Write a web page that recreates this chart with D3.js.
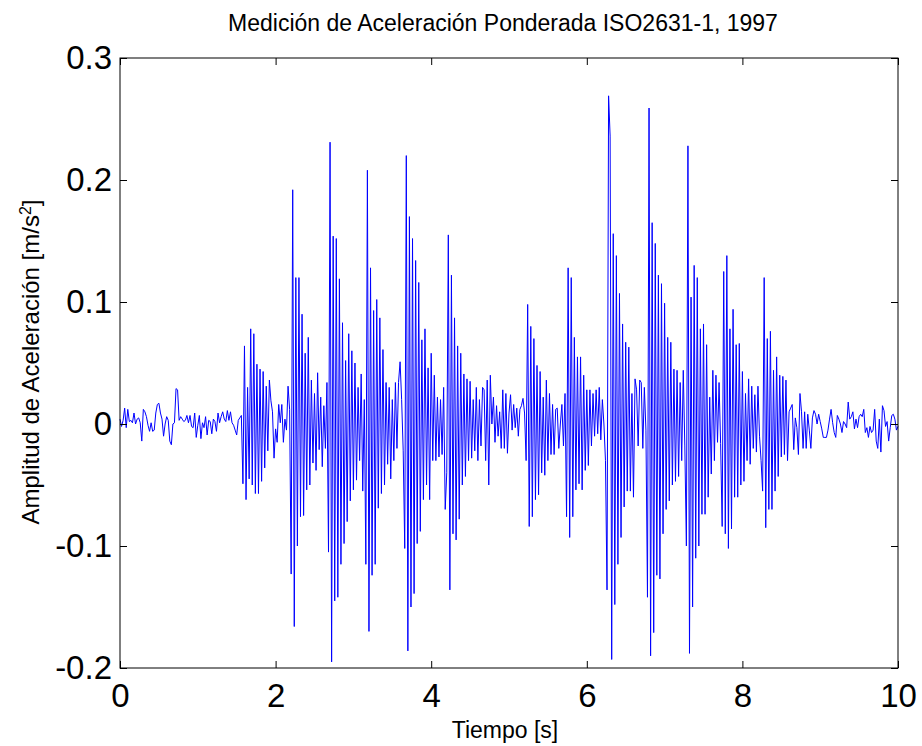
<!DOCTYPE html>
<html><head><meta charset="utf-8">
<script src="https://cdn.jsdelivr.net/npm/d3@7"></script>
<style>
body{margin:0;background:#fff}
svg{display:block}
text{font-family:"Liberation Sans",Arial,sans-serif;fill:#000}
</style>
</head><body>
<svg id="c" width="922" height="746"></svg>
<script>
// ---- data ----
const sampleInterval = 0.02; // seconds between samples
const acceleration = [
 .004,-.002,.003,.013,-.003,.012,.002,.003,.001,.009,
 0,.004,.005,.001,-.014,.012,.010,.006,-.001,-.006,
 .001,-.006,-.005,.009,.016,.017,.009,.004,-.010,0,
 .006,.003,-.014,-.017,0,.001,.029,.028,.003,.006,
 .004,.002,.003,.007,.001,.007,-.002,-.003,.009,-.011,
 -.001,.007,-.012,.001,-.003,.006,-.009,.003,.002,-.008,
 .004,.002,-.006,.009,.001,.006,.010,.004,.002,.011,
 .003,.010,.001,-.001,-.005,-.009,.003,.005,.007,-.049,
 .064,-.062,.030,-.045,.078,-.050,.074,-.057,.049,-.057,
 .045,-.047,.043,-.036,.031,-.022,.036,.019,.010,-.028,
 -.004,-.015,.016,.001,.016,-.015,.004,-.005,.031,.012,
 -.123,.192,-.166,.120,-.100,.120,-.076,.090,-.075,.058,
 -.054,.071,-.050,.036,-.032,.025,-.038,.042,-.021,.022,
 -.035,.015,-.020,.034,-.105,.231,-.195,.154,-.145,.152,
 -.142,.119,-.115,.083,-.098,.052,-.080,.074,-.063,.060,
 -.054,.050,-.046,.030,-.030,.041,-.055,.020,-.115,.208,
 -.170,.128,-.124,.093,-.115,.102,-.069,.087,-.057,.061,
 -.050,.034,-.033,.030,-.045,.020,-.030,.034,-.020,.034,
 .051,.020,-.022,-.102,.220,-.186,.170,-.150,.152,-.139,
 .134,-.098,.116,-.088,.069,-.062,.078,-.050,.046,-.062,
 .058,-.030,.040,-.030,.022,-.027,.020,-.025,.030,-.070,
 -.040,.155,-.136,.122,-.090,.087,-.095,.064,-.078,.058,
 -.050,.041,-.043,.037,-.030,.035,-.028,.020,-.022,.030,
 -.030,.020,-.018,.030,.028,-.030,.036,-.050,.040,0,
 .022,-.015,.015,-.010,.010,-.020,.028,-.020,.025,-.024,
 .009,.024,-.005,.016,-.003,.013,-.010,.012,.015,.021,
 .009,-.030,.098,-.084,.080,-.076,.070,-.062,.048,-.058,
 .043,-.040,.022,-.042,.036,-.030,.025,-.025,.016,-.025,
 .012,.013,-.020,0,.016,-.018,.025,-.076,.128,-.093,
 .120,-.076,.071,-.054,.055,-.049,.055,-.054,.040,-.038,
 .028,-.034,.028,-.018,.025,-.010,.028,-.008,.030,-.013,
 .020,0,-.030,-.136,.269,.236,-.193,.156,-.148,.138,
 -.115,.107,-.093,.082,-.068,.067,-.055,.063,-.055,.025,
 -.060,.037,.028,-.018,.036,.034,-.020,.030,-.005,-.142,
 .259,-.190,.165,-.171,.148,-.124,.122,-.127,.115,-.090,
 .099,-.070,.071,-.063,.067,-.050,.045,-.047,.044,-.043,
 .034,-.030,.044,-.018,-.100,.228,-.188,.104,-.150,.130,
 -.110,.120,-.100,.078,-.074,.082,-.074,.065,-.060,.022,
 -.041,.044,-.030,.040,-.015,.034,-.016,-.084,.125,-.090,
 .138,-.102,.078,-.086,.094,-.060,.065,-.060,.066,-.050,
 .043,-.047,.025,-.030,.037,-.033,.031,-.020,.024,-.023,
 .031,-.010,-.030,-.055,.120,-.085,.070,-.070,.076,-.070,
 .044,-.055,.055,-.043,.040,-.027,.039,-.025,.036,-.030,
 .010,.013,.016,-.021,.005,-.003,-.025,.025,.010,-.020,
 .010,-.020,.008,-.005,-.020,.005,.011,.008,0,.008,
 .002,-.004,-.011,-.011,-.011,-.005,.004,.012,.001,-.007,
 -.011,.007,.004,0,-.007,.002,0,-.003,.018,.004,
 .006,.010,-.004,.004,-.003,.006,.008,.006,.012,-.007,
 -.003,-.011,-.002,-.007,-.005,.012,-.014,-.020,.004,-.023,
 .015,.011,-.002,.002,-.014,-.003,.007,.008,.004,-.005,-.002
];
const xTicks = [0, 2, 4, 6, 8, 10];
const xTickLabels = ["0", "2", "4", "6", "8", "10"];
const yTicks = [-0.2, -0.1, 0, 0.1, 0.2, 0.3];
const yTickLabels = ["-0.2", "-0.1", "0", "0.1", "0.2", "0.3"];
const xDomain = [0, 10];
const yDomain = [-0.2, 0.3];
const titleText = "Medición de Aceleración Ponderada ISO2631-1, 1997";
const xLabelText = "Tiempo [s]";
const yLabelText = "Amplitud de Aceleración [m/s";
const yLabelSup = "2";
const yLabelEnd = "]";

// ---- layout ----
const plot = {left: 120, right: 898, top: 58, bottom: 668};
const svg = d3.select("#c");

const x = d3.scaleLinear().domain(xDomain).range([plot.left, plot.right]);
const y = d3.scaleLinear().domain(yDomain).range([plot.bottom, plot.top]);

// signal
const pts = acceleration.map((v, i) => [i * sampleInterval, v]);
svg.append("path")
  .datum(pts)
  .attr("fill", "none")
  .attr("stroke", "#0000ff")
  .attr("stroke-width", 1)
  .attr("d", d3.line().x(d => x(d[0])).y(d => y(d[1])));

// axes (MATLAB style: ticks inside, box)
const tickLen = 7;
function styleAxis(g, fontSize){
  g.select(".domain").remove();
  g.selectAll(".tick line").attr("stroke", "#000").attr("stroke-width", 1);
  g.selectAll(".tick text").attr("font-size", fontSize)
    .style("font-family", '"Liberation Sans", Arial, sans-serif').attr("fill", "#000");
}
svg.append("g").attr("transform", `translate(0,${plot.bottom})`)
  .call(d3.axisBottom(x).tickValues(xTicks).tickFormat((d, i) => xTickLabels[i])
    .tickSizeInner(-tickLen).tickSizeOuter(0).tickPadding(16))
  .call(g => styleAxis(g, 33));
svg.append("g").attr("transform", `translate(0,${plot.top})`)
  .call(d3.axisTop(x).tickValues(xTicks).tickFormat("")
    .tickSizeInner(-tickLen).tickSizeOuter(0))
  .call(g => styleAxis(g, 10));
svg.append("g").attr("transform", `translate(${plot.left},0)`)
  .call(d3.axisLeft(y).tickValues(yTicks).tickFormat((d, i) => yTickLabels[i])
    .tickSizeInner(-tickLen).tickSizeOuter(0).tickPadding(8))
  .call(g => styleAxis(g, 33));
svg.append("g").attr("transform", `translate(${plot.right},0)`)
  .call(d3.axisRight(y).tickValues(yTicks).tickFormat("")
    .tickSizeInner(-tickLen).tickSizeOuter(0))
  .call(g => styleAxis(g, 10));

// box
svg.append("rect")
  .attr("x", plot.left).attr("y", plot.top)
  .attr("width", plot.right - plot.left).attr("height", plot.bottom - plot.top)
  .attr("fill", "none").attr("stroke", "#000").attr("stroke-width", 1);

// title
svg.append("text")
  .attr("x", 503).attr("y", 31)
  .attr("text-anchor", "middle").attr("font-size", 23)
  .text(titleText);

// x label
svg.append("text")
  .attr("x", 505).attr("y", 738)
  .attr("text-anchor", "middle").attr("font-size", 23)
  .text(xLabelText);

// y label
const yl = svg.append("text")
  .attr("transform", "translate(39,362) rotate(-90)")
  .attr("text-anchor", "middle").attr("font-size", 24);
yl.append("tspan").text(yLabelText);
yl.append("tspan").attr("baseline-shift", "super").attr("font-size", 16).text(yLabelSup);
yl.append("tspan").text(yLabelEnd);
</script>
</body></html>
